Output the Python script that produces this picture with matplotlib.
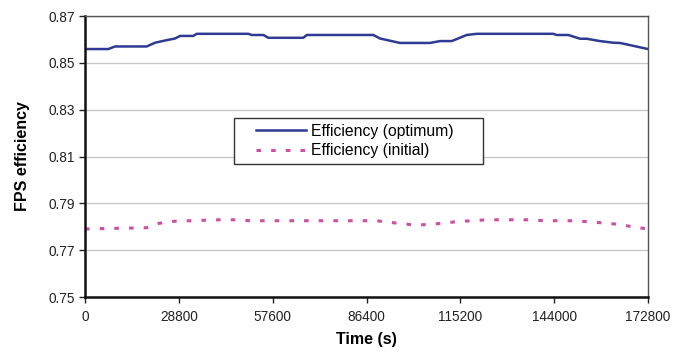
import matplotlib
matplotlib.use("Agg")
import matplotlib.pyplot as plt
from matplotlib.patches import Rectangle

plt.rcParams['font.family'] = ['Liberation Sans', 'DejaVu Sans']

# Efficiency (optimum)
t_opt = [0, 7150, 9210, 18940, 21490, 25080, 27620, 29160, 33240, 34280,
         50120, 51170, 54730, 56260, 67000, 68050, 88490, 90540, 96680,
         105890, 108960, 112550, 117150, 120220, 143730, 144770, 148340,
         151930, 153980, 158060, 162150, 164200, 172800]
eff_opt = [0.8559, 0.8559, 0.8570, 0.8570, 0.8586, 0.8597, 0.8604, 0.8615,
           0.8615, 0.8624, 0.8624, 0.8619, 0.8619, 0.8607, 0.8607, 0.8619,
           0.8619, 0.8604, 0.8585, 0.8585, 0.8593, 0.8593, 0.8619, 0.8624,
           0.8624, 0.8619, 0.8619, 0.8603, 0.8603, 0.8593, 0.8586, 0.8585,
           0.8559]

# Efficiency (initial)
t_ini = [0, 18940, 22690, 27620, 41420, 46560, 50650, 89530, 91560, 100270,
         104870, 109470, 114070, 118670, 123270, 136550, 141150, 150360,
         154960, 159560, 164160, 168760, 172800]
eff_ini = [0.7791, 0.7796, 0.7815, 0.7824, 0.7830, 0.7830, 0.7826, 0.7826,
           0.7822, 0.7809, 0.7809, 0.7815, 0.7822, 0.7826, 0.7830, 0.7830,
           0.7826, 0.7826, 0.7821, 0.7816, 0.7810, 0.7798, 0.7791]

x_ticks = [0, 28800, 57600, 86400, 115200, 144000, 172800]
y_ticks = [0.75, 0.77, 0.79, 0.81, 0.83, 0.85, 0.87]

fig = plt.figure(figsize=(6.83, 3.52), dpi=100)
ax = fig.add_axes([0.1245, 0.156, 0.8243, 0.7985])

ax.plot(t_opt, eff_opt, color='#2E3A94', lw=1.8, label='Efficiency (optimum)')
ax.plot(t_ini, eff_ini, color='#CC4FA3', lw=2.2, linestyle=(0, (1.5, 3.3)),
        label='Efficiency (initial)')

ax.set_xlim(0, 172800)
ax.set_ylim(0.75, 0.87)
ax.set_xticks(x_ticks)
ax.set_xticklabels([str(v) for v in x_ticks])
ax.set_yticks(y_ticks)
ax.set_yticklabels(['%.2f' % v for v in y_ticks])
ax.tick_params(labelsize=9.8, direction='out', length=4, width=1, colors='#222222')
ax.tick_params(axis='x', pad=5)

ax.grid(axis='y', color='#C8C8C8', lw=1)
ax.set_axisbelow(True)

for s in ['left', 'bottom']:
    ax.spines[s].set_color('#111111')
    ax.spines[s].set_linewidth(1.8)
for s in ['top', 'right']:
    ax.spines[s].set_color('#555555')
    ax.spines[s].set_linewidth(1)

ax.set_xlabel('Time (s)', fontsize=11.5, fontweight='bold', labelpad=6)
ax.set_ylabel('FPS efficiency', fontsize=11.5, fontweight='bold', labelpad=13)

# legend box drawn separately so its padding matches the original
ax.add_patch(Rectangle((0.2647, 0.4733), 0.4423, 0.1637, transform=ax.transAxes,
                       facecolor='white', edgecolor='#333333', lw=1, zorder=4))
leg = ax.legend(loc='center left', bbox_to_anchor=(0.3037, 0.5555), fontsize=11.3,
                frameon=False, handlelength=3.2, handletextpad=0.3,
                borderpad=0, borderaxespad=0, labelspacing=0.27)
leg.set_zorder(5)

fig.savefig('out.png', dpi=100)
